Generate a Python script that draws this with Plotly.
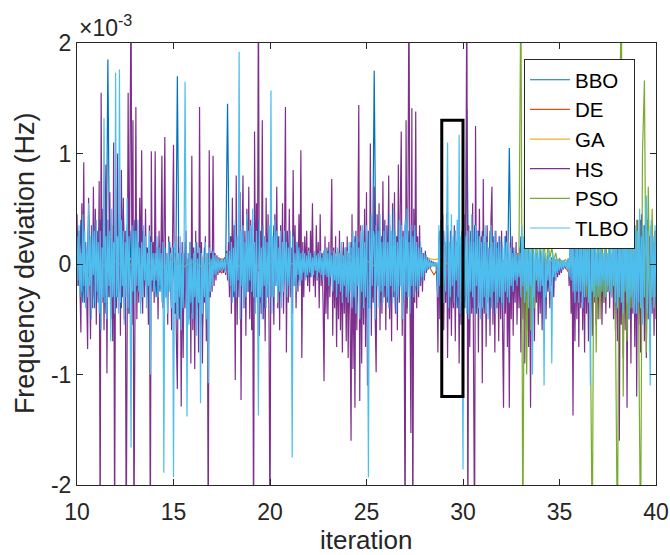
import numpy as np
import plotly.graph_objects as go

# ---------------- data (frequency deviation, in units of 1e-3 Hz) ----------------
series_names = ["BBO", "DE", "GA", "HS", "PSO", "TLBO"]
series_colors = ["#0072BD", "#D95319", "#EDB120", "#7E2F8E", "#77AC30", "#4DBEEE"]

# HS: sampled every 0.05 s from 10 to 40 (one row per second)
hs_values = [
    0.45, -0.2, 0.3, -0.45, -0.62, 0.55, -0.15, 0.92, -0.35, 0.2, -0.5, -0.77, 0.6, -0.25, -0.68, 0.35, -0.4, 0.7, -0.3, 0.5,
    -0.55, 0.3, -0.2, 0.75, -2.6, 1.55, -0.35, 0.5, -0.6, 0.25, 0.9, -0.99, 0.4, -0.3, 0.65, -0.5, 0.2, -0.7, 1.1, -2.6,
    0.7, -0.4, 1.0, -0.25, 0.45, -0.65, 0.85, -0.3, 0.6, -0.5, 0.3, -2.6, 0.5, 1.55, -0.45, 0.75, 2.6, -0.55, 1.3, -2.6,
    0.4, 1.42, -0.5, 0.2, -0.35, 0.6, -0.15, 1.03, -0.45, 0.25, -0.3, 0.5, -0.2, 0.15, -0.55, 0.35, -2.6, 1.02, -0.25, 0.2,
    -0.35, 1.02, -0.2, 0.15, -0.5, 0.3, -0.15, 0.1, 0.98, -0.4, 0.2, 1.15, -0.3, 0.1, -0.55, 0.25, -0.2, 0.15, -0.6, 0.2,
    1.08, -0.45, 0.1, -0.7, -1.13, 0.25, -0.3, 0.15, -1.29, 0.2, -0.85, 0.1, -0.4, 0.3, -0.75, 0.05, -0.5, 0.2, -0.9, 0.98,
    -0.6, 0.15, -0.95, 0.3, -0.4, 0.1, -0.8, 1.42, -0.55, 0.2, -0.9, 0.05, -0.35, 0.25, -0.7, 0.1, -2.6, 1.03, -0.3, 0.1,
    -0.25, 0.98, -0.2, 0.1, -0.15, 0.08, -0.1, 0.06, -0.08, 0.05, -0.06, 0.04, -0.08, 0.06, -0.1, 0.12, -0.15, 0.2, -0.3, 0.25,
    -0.45, 0.6, -0.2, 0.35, -1.05, 0.8, -0.55, 0.25, -0.3, 0.65, -1.23, 0.15, 0.8, -0.4, 0.3, -0.65, 0.5, -0.25, 0.7, -0.5,
    0.4, -0.6, 0.2, -2.6, 1.2, -0.35, 0.55, -0.2, 2.6, -0.65, 0.3, -0.45, 1.3, -0.5, 0.25, -0.7, 0.6, -0.3, 0.45, -0.55,
    -2.6, 0.6, -0.3, 0.2, -0.55, 0.45, -0.15, 0.7, -0.4, 0.25, -0.6, 0.35, -0.2, 0.55, -0.45, 0.15, 1.42, -0.8, 0.3, -0.35,
    0.5, -0.3, 0.15, -0.45, 0.85, -0.2, 0.35, -0.4, 0.1, -0.25, 0.45, -0.15, 1.03, -0.85, 0.2, -0.3, 0.25, -0.1, 0.3, -0.2,
    0.15, -0.25, 0.3, -0.1, 0.55, -0.2, 0.1, -0.3, 0.35, -0.15, 0.2, -0.4, 0.45, -0.2, 0.1, -0.35, -1.06, 0.25, -0.45, 0.15,
    -0.5, 0.2, -0.3, 0.1, 0.77, -0.65, 0.15, -0.4, 0.25, -0.75, 0.05, -0.5, 0.3, -0.6, 0.1, -0.8, 0.2, -0.45, 0.15, -0.7,
    0.25, -0.85, 0.1, -0.5, -1.6, 0.45, -0.95, 0.15, -1.3, 0.3, -0.6, 0.2, 1.44, -1.24, 0.35, -0.9, 0.2, -0.55, 0.5, -0.75,
    0.65, -1.1, 0.3, -0.4, 1.09, -0.65, 0.2, -0.35, 0.7, -0.5, -0.98, 0.45, -0.2, 0.55, -0.6, 0.25, -0.45, 0.75, -0.3, 0.4,
    -0.6, 0.35, -0.25, 0.8, -0.5, 0.2, -0.7, 0.55, -0.3, 0.65, -0.45, 0.25, -0.6, 0.9, -0.35, 0.5, 1.2, -0.65, 0.3, -0.4,
    -2.6, 1.3, -0.45, 0.6, 2.6, -0.3, -1.53, 1.41, -2.6, 0.5, -0.35, 1.38, -0.4, 0.25, -0.3, 0.35, -0.2, 0.15, -0.25, 0.1,
    -0.15, 0.12, -0.08, 0.06, -0.05, 0.04, -0.03, 0.03, -0.02, 0.02, -0.01, 0.01, 0.0, 0.0, -0.8, 0.25, -0.5, 0.4, -0.3, 0.45,
    -0.6, 0.2, -0.35, 0.45, -0.85, 0.15, -0.5, 0.3, -0.65, 0.1, -0.4, 0.35, -0.7, 0.2, -0.3, 0.4, -0.9, 0.15, -0.55, 0.3,
    -0.7, 0.45, -0.3, 0.6, 2.6, -2.6, 0.35, -0.75, 0.2, -0.45, 0.55, -0.6, -2.6, 1.25, -0.4, 0.3, -0.8, 0.5, -0.35, 0.25,
    -1.08, 0.77, -0.45, 0.2, -0.75, 0.35, -0.3, 0.15, -0.65, 0.4, 0.7, -0.55, 0.2, -0.8, 0.3, -0.4, 0.1, -0.7, 0.25, -0.5,
    0.3, -0.6, -1.3, 0.15, -0.45, 0.3, -0.75, 0.1, -1.3, 0.2, -0.5, 0.25, -0.65, 0.1, -0.35, 0.2, -0.55, 0.1, -0.4, 0.15,
    -0.8, 0.15, -0.5, 0.1, -0.9, 0.2, -0.6, 0.05, -0.75, 0.1, -1.3, 0.15, -0.45, 0.05, -0.7, 0.1, -0.35, 0.05, -0.55, 0.05,
    -0.45, 0.05, -0.6, 0.03, -0.3, 0.05, -0.5, 0.02, -0.25, 0.03, -0.4, 0.02, -0.2, 0.02, -0.3, 0.01, -0.15, 0.01, -0.12, 0.01,
    -0.1, 0.01, -0.08, 0.01, -0.05, 0.01, -0.04, 0.02, -0.03, 0.05, -0.2, 0.15, -0.45, 0.1, -1.37, 0.3, -0.7, 0.15, -0.5, 0.25,
    -0.75, 0.2, -0.4, 0.35, -0.6, 0.1, -0.8, 0.25, -0.45, 0.15, -0.7, 0.3, -0.5, 0.1, -0.65, 0.2, -0.35, 0.15, -0.55, 0.1,
    -0.5, 0.1, -0.3, 0.2, -0.55, 0.05, -0.35, 0.15, -0.45, 0.1, -0.25, 0.15, -0.4, 0.1, -0.3, 0.2, -0.5, 0.25, -0.6, 0.3,
    -0.7, 0.35, -1.6, 0.2, -0.55, 0.4, -0.85, 0.15, -0.6, 0.3, -1.3, 0.25, -0.5, 0.4, -0.9, 0.2, -0.45, 0.35, -0.75, 0.3,
    -1.2, 0.4, -0.55, 0.2, -0.8, 0.45, -0.4, 0.3, -0.7, 0.15, -0.85, 0.4, -0.5, 0.25, -0.75, 0.35, -0.45, 0.2, -0.65, 0.3,
    -0.5,
]

# TLBO: sampled every 0.05 s from 10 to 40 (one row per second)
tlbo_values = [
    0.25, -0.15, 0.35, -0.3, 0.1, -0.25, 0.45, -0.2, 0.3, -0.4, 0.15, -0.3, 0.55, -0.2, 0.25, -0.5, 0.35, -0.1, 0.3, -0.35,
    0.4, -0.25, 0.2, -0.45, 0.3, -0.6, 0.15, -0.3, 1.32, -0.35, 0.25, -0.5, 0.4, -0.2, 0.3, -0.7, 0.5, -0.3, 0.2, -0.45,
    1.73, -0.3, 0.25, -0.45, 1.76, -0.35, 0.4, -0.2, 0.3, -0.55, 0.2, -0.3, 0.6, -0.4, 0.25, -0.3, -1.66, 0.35, -0.25, 0.3,
    -0.35, 0.3, -0.2, 0.4, -0.25, 0.15, -0.45, 0.2, -0.3, 0.35, -0.15, 0.25, -0.4, 0.1, -0.2, 0.3, -1.0, 0.2, -0.15, 0.1,
    -0.25, 0.1, -0.15, 0.25, -0.3, 0.15, -0.2, 0.1, -0.35, 0.2, -1.89, 0.15, -0.3, 0.1, -0.45, 0.2, -0.25, 0.1, -0.4, 0.15,
    -1.93, 0.2, -0.35, 0.15, -0.5, 0.1, -0.3, 0.25, -0.6, 0.1, -0.4, 0.2, 1.65, -0.3, -1.38, 0.1, -0.55, 0.2, -0.35, 0.05,
    -0.5, 0.1, -0.3, 0.2, -0.65, 0.05, -0.35, 0.15, -1.26, 0.1, -0.45, 0.05, -0.3, 0.2, -0.5, 0.1, -1.08, 0.15, -0.25, 0.05,
    -0.2, 0.12, -0.1, 0.08, -0.1, 0.06, -0.07, 0.05, -0.06, 0.04, -0.05, 0.04, -0.05, 0.05, -0.08, 0.1, 0.08, -0.15, 0.12, -0.2,
    0.2, -0.35, 0.15, -0.25, 0.4, -0.3, 0.25, -0.15, 1.92, -0.5, 0.3, -0.2, 0.35, -0.4, 0.2, -0.3, 0.45, -0.25, 0.3, -0.15,
    0.35, -0.25, 0.5, -0.3, 0.2, -0.45, 0.3, -0.2, -1.37, 0.4, -0.3, 0.15, -0.5, 0.35, -0.2, 0.25, -0.4, 0.2, -0.3, 0.35,
    -0.3, 1.57, -0.45, 0.25, -0.3, 0.4, -0.2, 0.3, -0.35, 0.15, -0.25, 0.3, -0.4, 0.2, -0.25, 0.3, -0.15, 0.2, -0.3, 0.15,
    -0.2, 0.3, -0.15, -1.75, 0.25, -0.2, 0.1, -0.25, 0.2, -0.1, 0.15, -0.2, 0.1, -0.15, 0.12, -0.08, 0.1, -0.15, 0.08, -0.1,
    0.12, -0.08, 0.1, -0.12, 0.06, -0.1, 0.12, -0.06, 0.08, -0.14, 0.1, -0.08, 0.12, -0.1, 0.06, -0.15, 0.12, -0.1, 0.15, -0.12,
    0.1, -0.2, 0.15, -0.12, 0.08, -0.25, 0.12, -0.15, 0.1, -0.3, 0.15, -0.18, 0.1, -0.25, 0.2, -0.35, 0.08, -0.2, 0.15, -0.3,
    0.12, -0.35, 0.2, -0.25, 0.15, -0.4, 0.3, -0.3, 0.2, -0.45, 0.25, -0.2, 0.15, -0.5, 0.3, -0.25, 0.35, -0.4, 0.2, -0.3,
    0.35, -0.25, -1.93, 0.3, -0.4, 0.45, -0.2, 0.3, 0.25, -0.5, 0.35, -0.2, 0.3, -0.4, 0.45, -0.25, 0.2, -0.35, 0.3, -0.2,
    0.35, -0.3, 0.2, -0.4, 0.45, -0.2, 0.3, -0.35, 0.5, -0.25, 0.3, -0.45, 0.2, -0.3, 0.4, -0.2, 0.35, -0.5, 0.25, -0.3,
    0.4, -0.25, 0.5, -0.3, 0.2, -0.45, 0.35, -0.2, 0.25, -0.3, 0.35, -0.2, 0.2, -0.25, 0.15, -0.2, 0.2, -0.12, 0.1, -0.15,
    0.1, -0.08, 0.08, -0.06, 0.05, -0.04, 0.03, -0.03, 0.02, -0.02, 0.01, -0.01, 0.01, 0.01, -0.3, 0.35, -0.2, 0.4, -0.25, 0.3,
    -0.35, 0.2, -0.25, 0.3, 1.1, -0.4, 0.2, -0.3, 0.45, -0.2, 0.25, -0.35, 0.3, -0.15, 0.4, -0.3, 1.17, -0.45, 0.25, -0.3,
    -1.86, 0.4, -0.3, 0.25, -0.45, 0.3, -0.5, 0.2, -0.25, 0.45, -0.3, 0.2, -0.45, 0.35, -0.2, 0.3, -0.4, 0.25, -0.5, 0.2,
    -0.4, 0.25, -0.3, 0.35, -0.45, 0.2, -0.5, 0.15, -0.3, 0.35, -0.4, 0.2, -0.25, 0.3, -0.45, 0.15, -0.35, 0.25, -0.3, 0.2,
    -0.35, 0.15, -0.4, 0.25, -0.25, 0.2, -0.3, 0.2, -0.35, 0.15, -0.2, 0.1, -0.25, 0.15, -0.15, 0.1, -0.2, 0.08, -0.12, 0.1,
    -0.3, 0.35, -0.2, 0.25, -0.35, 0.15, -0.25, 0.3, -0.4, 0.15, -0.2, 0.25, -1.0, 0.1, -0.3, 0.2, -0.15, 0.1, -0.25, 0.15,
    -0.25, 0.1, -0.2, 0.15, -1.1, 0.1, -0.3, 0.05, -0.15, 0.12, -0.25, 0.05, -0.9, 0.1, -0.12, 0.06, -0.15, 0.05, -0.08, 0.04,
    -0.06, 0.04, -0.05, 0.03, -0.04, 0.03, -0.03, 0.02, -0.04, 0.05, -0.12, 0.2, -0.15, 0.3, -0.25, 0.15, -0.35, 0.2, -0.25, 0.3,
    -0.35, 0.2, -0.25, 0.35, -0.4, 0.2, -0.3, 0.25, -0.2, 0.3, -0.35, 0.15, -1.1, 0.3, -0.25, 0.15, -0.3, 0.25, -0.2, 0.15,
    -0.3, 0.15, -0.2, 0.2, -0.25, 0.1, -0.15, 0.25, -0.3, 0.1, -0.2, 0.2, -0.25, 0.15, -0.3, 0.25, -0.2, 0.3, -0.35, 0.2,
    -0.4, 0.25, -0.3, 0.4, -0.35, 0.2, -0.45, 0.3, -0.25, 0.4, -0.35, 0.3, -0.5, 0.25, -0.3, 0.35, -0.4, 0.2, -0.45, 0.35,
    -0.45, 0.3, -0.35, 0.5, -0.4, 0.25, -0.55, 0.35, -0.3, 0.4, 0.62, -0.45, 0.3, -0.35, -1.1, 0.4, -0.3, 0.25, -0.4, 0.35,
    -0.3,
]

# BBO: sampled every 0.1 s from 10 to 40
bbo_values = [
    0.3, -0.2, 0.4, -0.35, 0.15, -0.3, 0.45, -0.25, 0.3, -0.4,
    0.2, -0.35, 0.4, -0.25, 0.3, -0.45, 1.85, -0.3, 0.35, -0.5,
    0.45, -0.3, 0.25, -0.4, 0.5, -0.2, 0.35, -0.45, 0.3, -0.35,
    0.4, -0.25, 0.2, -0.35, 0.3, -0.2, 0.15, -0.3, 0.25, -0.2,
    0.2, -0.3, 0.15, -0.25, 0.3, -0.35, 0.1, -0.3, 0.2, -0.4,
    0.15, -0.45, 1.7, -0.5, 0.1, -0.55, 0.2, -0.4, 0.1, -0.45,
    0.15, -0.5, 0.2, -0.4, 0.1, -0.55, 0.15, -0.35, 0.1, -0.3,
    0.12, -0.1, 0.06, -0.05, 0.04, -0.04, 0.05, -0.06, 1.45, -0.2,
    0.25, -0.3, 0.35, -0.2, 0.3, -0.35, 0.2, -0.3, 0.4, -0.25,
    0.35, -0.4, 0.25, -0.3, 0.4, -0.35, 0.3, -0.4, 0.25, -0.3,
    0.3, -0.25, 0.35, -0.2, 0.25, -0.3, 0.2, -0.25, 0.3, -0.2,
    0.2, -0.25, 0.15, -0.2, 0.2, -0.15, 0.12, -0.18, 0.1, -0.12,
    0.1, -0.12, 0.12, -0.1, 0.08, -0.12, 0.1, -0.15, 0.12, -0.15,
    0.12, -0.2, 0.1, -0.25, 0.08, -0.3, 0.12, -0.28, 0.15, -0.3,
    0.15, -0.35, 0.2, -0.4, 0.25, -0.35, 0.2, -0.45, 0.3, -0.3,
    0.3, -0.4, 0.25, -0.3, 1.75, -0.35, 0.3, -0.35, 0.25, -0.3,
    0.3, -0.35, 0.35, -0.25, 0.3, -0.4, 0.25, -0.3, 0.35, -0.3,
    0.35, -0.4, 0.3, -0.35, 0.3, -0.25, 0.25, -0.2, 0.15, -0.12,
    0.08, -0.06, 0.04, -0.03, 0.02, -0.01, 0.01, -0.3, 0.3, -0.35,
    0.3, -0.35, 0.35, -0.4, 0.25, -0.35, 0.3, -0.4, 0.3, -0.45,
    0.35, -0.4, 1.4, -0.45, 0.3, -0.4, 0.35, -0.45, 0.3, -0.4,
    0.3, -0.4, 0.25, -0.35, 0.3, -0.4, 0.25, -0.35, 0.2, -0.35,
    0.2, -0.3, 0.25, -0.25, 1.05, -0.25, 0.15, -0.2, 0.1, -0.15,
    0.25, -0.3, 0.2, -0.3, 0.15, -0.35, 0.15, -0.25, 0.1, -0.25,
    0.12, -0.25, 0.08, -0.3, 0.08, -0.2, 0.06, -0.15, 0.04, -0.1,
    0.04, -0.05, 0.03, -0.03, 0.02, -0.12, 0.15, -0.25, 0.2, -0.3,
    0.25, -0.35, 0.25, -0.3, 0.2, -0.35, 0.2, -0.3, 0.15, -0.25,
    0.15, -0.25, 0.15, -0.2, 0.15, -0.25, 0.15, -0.25, 0.25, -0.3,
    0.3, -0.35, 0.3, -0.4, 0.3, -0.35, 0.35, -0.45, 0.3, -0.4,
    0.35, -0.45, 0.4, -0.5, 0.35, -0.45, 0.4, -0.45, 0.35, -0.4,
    0.3,
]

# GA and DE: sampled every 0.5 s from 10 to 40
ga_values = [
    0.12, -0.1, 0.08, -0.06, 0.05, 0.03, 0.06, 0.05, 0.04, 0.06,
    0.05, 0.02, 0.04, 0.06, 0.03, 0.05, 0.06, 0.04, 0.05, 0.03,
    0.04, 0.02, 0.03, 0.05, 0.04, 0.06, 0.08, 0.1, 0.08, 0.05,
    0.04, 0.03, 0.05, 0.04, 0.06, 0.05, 0.06, 0.04, 0.05, 0.03,
    0.04, 0.05, 0.03, -0.02, -0.05, 0.03, 0.02, 0.01, 0.02, 0.03,
    0.02, 0.01, 0.03, 0.02, 0.01, 0.02, 0.03, 0.02, 0.01, 0.02,
    0.01,
]
de_values = [
    0.1, -0.15, 0.12, -0.1, 0.08, -0.1, 0.06, -0.15, 0.05, -0.12,
    0.08, -0.1, 0.06, -0.22, 0.05, -0.08, 0.04, -0.06, 0.05, -0.08,
    0.06, -0.05, 0.04, -0.06, 0.05, -0.1, 0.06, -0.12, 0.05, -0.08,
    0.06, -0.1, 0.05, -0.08, 0.04, -0.06, 0.05, -0.1, 0.06, -0.12,
    0.05, -0.1, 0.04, -0.3, 0.05, -0.08, 0.04, -0.06, 0.03, -0.05,
    0.04, -0.08, 0.05, -0.1, 0.06, -0.2, 0.05, -0.1, 0.04, -0.08,
    0.03,
]

# PSO: every 0.5 s from 10 to 32.5, then every 0.1 s from 32.9 to 40
pso_values_early = [
    0.03, -0.03, 0.04, -0.03, 0.03, -0.04, 0.02, -0.03, 0.03, -0.02,
    0.03, -0.03, 0.02, -0.03, 0.02, -0.02, 0.03, -0.03, 0.02, -0.03,
    0.02, -0.02, 0.01, -0.02, 0.01, -0.02, 0.02, -0.03, 0.02, -0.03,
    0.03, -0.03, 0.02, -0.03, 0.01, -0.01, 0.02, -0.02, 0.02, -0.03,
    0.02, -0.03, 0.02, -0.02, 0.01, 0.02,
]
pso_values_late = [
    0.1,
    2.6, -2.6, 1.2, -1.0, 0.8, -0.6, 0.5, -0.4, 0.35, -0.2,
    0.3, -0.15, 0.25, -0.1, 0.2, 0.05, 0.15, 0.02, 0.1, 0.02,
    0.05, 0.03, 0.02, 0.04, 0.02, 0.03, 0.05, 0.1, -0.05, 0.08,
    -0.1, 0.15, -0.2, 0.2, -0.3, 0.3, -0.6, -2.6, 1.3, -0.8,
    0.6, -0.5, 0.4, -0.35, 0.3, -0.25, 0.2, -0.3, 0.35, -0.5,
    -2.6, 0.8, 2.6, -1.2, 0.9, -0.7, 0.5, -0.4, 0.3, -0.3,
    0.4, -0.5, -2.6, 1.0, 1.66, -0.8, 0.7, -0.6, 0.5, -0.4,
    0.3,
]

x_ticks = [10, 15, 20, 25, 30, 35, 40]
y_ticks = [-2, -1, 0, 1, 2]
y_tick_labels = ["-2", "-1", "0", "1", "2"]
box_x = [28.9, 30.0]
box_y = [-1.2, 1.3]

# ---------------- sample grids ----------------
def grid(values, start=10, stop=40):
    return np.round(np.linspace(start, stop, len(values)), 3)

t_pso = np.concatenate([grid(pso_values_early, 10, 32.5), grid(pso_values_late, 32.9, 40)])

series_data = {
    "BBO": (grid(bbo_values), bbo_values),
    "DE": (grid(de_values), de_values),
    "GA": (grid(ga_values), ga_values),
    "HS": (grid(hs_values), hs_values),
    "PSO": (t_pso, pso_values_early + pso_values_late),
    "TLBO": (grid(tlbo_values), tlbo_values),
}

fig = go.Figure()
for name, color in zip(series_names, series_colors):
    xs, ys = series_data[name]
    fig.add_trace(go.Scatter(x=xs, y=ys, mode="lines", name=name,
                             line=dict(color=color, width=1.2)))

fig.add_shape(type="rect", xref="x", yref="y",
              x0=box_x[0], x1=box_x[1], y0=box_y[0], y1=box_y[1],
              line=dict(color="black", width=3))

axis_common = dict(ticks="inside", ticklen=6, tickcolor="#262626", showline=True,
                   linecolor="#262626", linewidth=1, mirror="allticks",
                   showgrid=False, zeroline=False,
                   tickfont=dict(size=23, color="#262626"))

fig.update_xaxes(range=[10, 40], tickvals=x_ticks, ticklabelstandoff=6, **axis_common)
fig.update_yaxes(range=[-2, 2], tickvals=y_ticks, ticktext=y_tick_labels, **axis_common)

fig.add_annotation(text="iteration", xref="paper", yref="paper", x=0.5, y=-0.1244,
                   xanchor="center", yanchor="middle", showarrow=False,
                   font=dict(size=26, color="#262626"))
fig.add_annotation(text="Frequency deviation (Hz)", xref="paper", yref="paper",
                   x=-0.0898, y=0.502, xanchor="center", yanchor="middle",
                   textangle=-90, showarrow=False, font=dict(size=27, color="#262626"))
fig.add_annotation(text="×10<sup>-3</sup>", xref="paper", yref="paper", x=0, y=1.0,
                   xanchor="left", yanchor="bottom", showarrow=False,
                   font=dict(size=23, color="#262626"))

fig.update_layout(
    width=670, height=555,
    margin=dict(l=77, r=14, t=43, b=70, autoexpand=False),
    plot_bgcolor="white", paper_bgcolor="white",
    font=dict(family="Liberation Sans, Arial, sans-serif", color="#262626"),
    legend=dict(x=0.772, y=0.964, xanchor="left", yanchor="top",
                bordercolor="#262626", borderwidth=1, bgcolor="white",
                itemwidth=40, font=dict(size=20.5, color="black"), tracegroupgap=0),
)

fig.write_html("out.html")
